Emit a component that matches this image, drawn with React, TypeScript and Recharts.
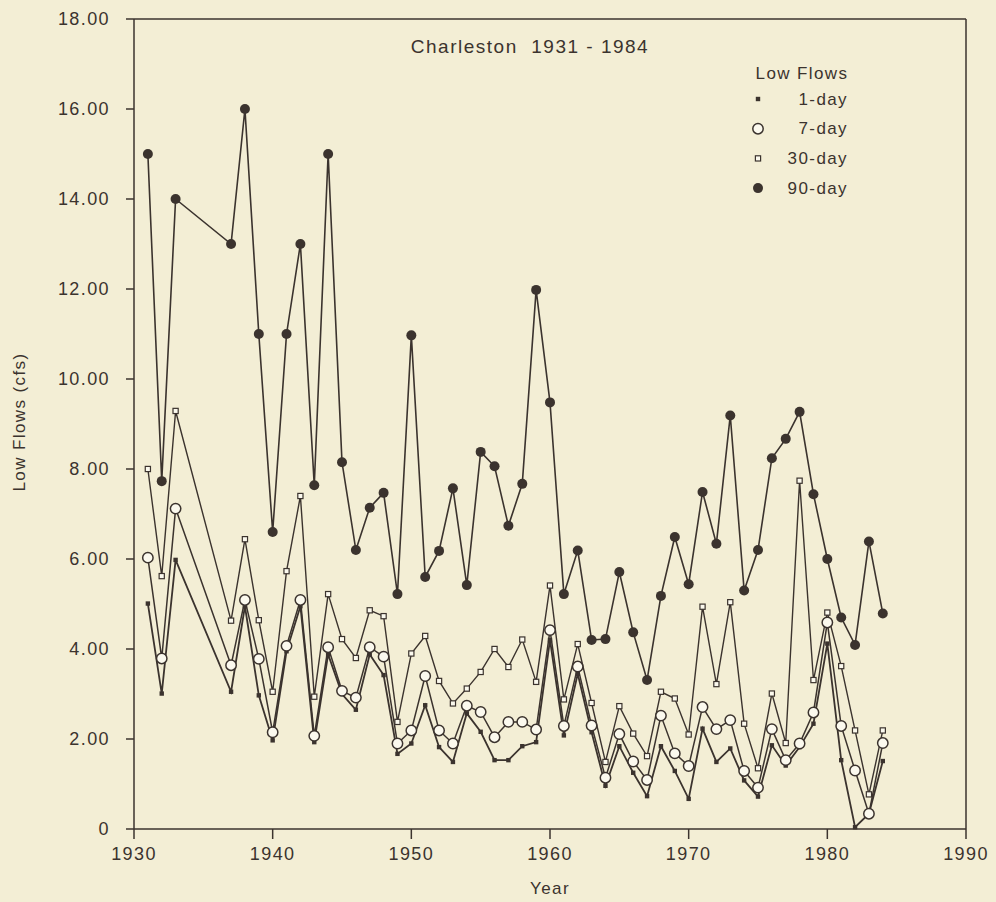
import React from "react";
import { LineChart, Line, XAxis, YAxis, ReferenceLine } from "recharts";

const years = [
  1931, 1932, 1933, 1937, 1938, 1939, 1940, 1941, 1942, 1943, 1944, 1945, 1946,
  1947, 1948, 1949, 1950, 1951, 1952, 1953, 1954, 1955, 1956, 1957, 1958, 1959,
  1960, 1961, 1962, 1963, 1964, 1965, 1966, 1967, 1968, 1969, 1970, 1971, 1972,
  1973, 1974, 1975, 1976, 1977, 1978, 1979, 1980, 1981, 1982, 1983, 1984,
];

const oneDay = [
  5.01, 3.01, 5.98, 3.05, 4.95, 2.97, 1.97, 3.95, 4.95, 1.93, 3.88, 3.0, 2.65,
  3.88, 3.42, 1.67, 1.9, 2.75, 1.82, 1.49, 2.57, 2.16, 1.53, 1.53, 1.84, 1.93,
  4.2, 2.08, 3.45, 2.15, 0.96, 1.84, 1.25, 0.73, 1.84, 1.29, 0.67, 2.23, 1.49,
  1.79, 1.08, 0.72, 1.86, 1.41, 1.82, 2.34, 4.12, 1.53, 0.04, 0.34, 1.51,
];

const sevenDay = [
  6.03, 3.79, 7.12, 3.64, 5.09, 3.78, 2.15, 4.07, 5.09, 2.07, 4.04, 3.07, 2.92,
  4.04, 3.83, 1.9, 2.19, 3.4, 2.19, 1.9, 2.74, 2.6, 2.04, 2.38, 2.38, 2.21,
  4.42, 2.29, 3.61, 2.3, 1.14, 2.11, 1.5, 1.09, 2.52, 1.68, 1.4, 2.71, 2.22,
  2.42, 1.29, 0.92, 2.22, 1.53, 1.9, 2.59, 4.59, 2.29, 1.3, 0.34, 1.91,
];

const thirtyDay = [
  8.0, 5.62, 9.29, 4.63, 6.44, 4.64, 3.05, 5.73, 7.4, 2.94, 5.22, 4.22, 3.8,
  4.86, 4.73, 2.38, 3.9, 4.29, 3.29, 2.79, 3.12, 3.49, 4.0, 3.6, 4.21, 3.27,
  5.41, 2.88, 4.11, 2.8, 1.49, 2.73, 2.12, 1.62, 3.05, 2.9, 2.1, 4.94, 3.22,
  5.04, 2.34, 1.35, 3.01, 1.91, 7.74, 3.31, 4.81, 3.62, 2.19, 0.77, 2.19,
];

const ninetyDay = [
  15.0, 7.73, 14.0, 13.0, 16.0, 11.0, 6.6, 11.0, 13.0, 7.64, 15.0, 8.15, 6.2,
  7.14, 7.47, 5.22, 10.97, 5.6, 6.18, 7.57, 5.42, 8.38, 8.06, 6.74, 7.67, 11.98,
  9.48, 5.22, 6.19, 4.2, 4.22, 5.71, 4.37, 3.31, 5.18, 6.49, 5.44, 7.49, 6.34,
  9.19, 5.3, 6.2, 8.24, 8.67, 9.27, 7.44, 6.0, 4.7, 4.09, 6.39, 4.79,
];

const xTicks = [1930, 1940, 1950, 1960, 1970, 1980, 1990];
const yTicks = [0, 2, 4, 6, 8, 10, 12, 14, 16, 18];
const seriesNames = ["1-day", "7-day", "30-day", "90-day"];

const data = years.map((year, i) => ({
  year,
  d1: oneDay[i],
  d7: sevenDay[i],
  d30: thirtyDay[i],
  d90: ninetyDay[i],
}));

const ink = "#3b332e";
const paper = "#f3eed5";
const hole = "#fbf9ee";
const font = "'Liberation Sans', Arial, Helvetica, sans-serif";

type Kind = "d1" | "d7" | "d30" | "d90";

function Marker({ kind, x, y }: { kind: Kind; x: number; y: number }) {
  if (kind === "d1")
    return <rect x={x - 2.2} y={y - 2.2} width={4.4} height={4.4} fill={ink} />;
  if (kind === "d30")
    return (
      <rect x={x - 2.6} y={y - 2.6} width={5.2} height={5.2} fill={hole} stroke={ink} strokeWidth={1.2} />
    );
  if (kind === "d7")
    return <circle cx={x} cy={y} r={5.2} fill={hole} stroke={ink} strokeWidth={1.5} />;
  return <circle cx={x} cy={y} r={5} fill={ink} />;
}

const makeDot = (kind: Kind) => (p: any) => {
  const key = `${kind}-${p.index}`;
  if (p.cx == null || p.cy == null) return <g key={key} />;
  return (
    <g key={key}>
      <Marker kind={kind} x={p.cx} y={p.cy} />
    </g>
  );
};

const legendKinds: Kind[] = ["d1", "d7", "d30", "d90"];

// legend drawn over the chart, top right of the plot
function LegendBox() {
  return (
    <svg
      width={130}
      height={150}
      style={{ position: "absolute", left: 740, top: 55, fontFamily: font, zIndex: 2 }}
    >
      <text x={62} y={18} textAnchor="middle" dominantBaseline="central" fill={ink} fontSize={17} style={{ letterSpacing: "1.4px" }}>
        Low Flows
      </text>
      {legendKinds.map((k, i) => {
        const y = 44 + i * 29.7;
        return (
          <g key={k}>
            <Marker kind={k} x={18} y={y} />
            <text x={108} y={y} textAnchor="end" dominantBaseline="central" fill={ink} fontSize={17} style={{ letterSpacing: "1.4px" }}>
              {seriesNames[i]}
            </text>
          </g>
        );
      })}
    </svg>
  );
}

const fmtY = (v: number) => (v === 0 ? "0" : v.toFixed(2));

const tickStyle = { fill: ink, fontSize: 18, style: { letterSpacing: "1.4px" } };

export default function App() {
  return (
    <div
      style={{
        position: "absolute",
        left: 0,
        top: 0,
        width: 996,
        height: 902,
        background: paper,
        fontFamily: font,
      }}
    >
      <div
        style={{
          position: "absolute",
          left: 330,
          width: 400,
          top: 35,
          textAlign: "center",
          fontSize: 19,
          lineHeight: "24px",
          letterSpacing: "1.5px",
          color: ink,
          whiteSpace: "pre",
          zIndex: 2,
        }}
      >
        {"Charleston  1931 - 1984"}
      </div>
      <LegendBox />
      <LineChart
        width={996}
        height={902}
        data={data}
        margin={{ top: 19, right: 30, left: 0, bottom: 0 }}
      >
        <XAxis
          dataKey="year"
          type="number"
          domain={[1930, 1990]}
          ticks={xTicks}
          interval={0}
          height={73}
          tickSize={10}
          tickMargin={8}
          stroke={ink}
          strokeWidth={1.5}
          tick={tickStyle}
          label={(props: any) => {
            const vb = props.viewBox || { x: 134, y: 829, width: 832 };
            return (
              <text
                x={vb.x + vb.width / 2}
                y={vb.y + 59}
                textAnchor="middle"
                dominantBaseline="central"
                fill={ink}
                fontSize={17}
                style={{ letterSpacing: "1.4px" }}
              >
                Year
              </text>
            );
          }}
        />
        <YAxis
          type="number"
          domain={[0, 18]}
          ticks={yTicks}
          interval={0}
          width={134}
          tickSize={8}
          tickMargin={16}
          tickFormatter={fmtY}
          stroke={ink}
          strokeWidth={1.5}
          tick={tickStyle}
          label={() => (
            <text
              x={19}
              y={422}
              transform="rotate(-90 19 422)"
              textAnchor="middle"
              dominantBaseline="central"
              fill={ink}
              fontSize={17}
              style={{ letterSpacing: "1.4px" }}
            >
              Low Flows (cfs)
            </text>
          )}
        />
        <ReferenceLine y={18} stroke={ink} strokeWidth={1.5} />
        <ReferenceLine x={1990} stroke={ink} strokeWidth={1.5} />
        <Line type="linear" dataKey="d90" name="90-day" stroke={ink} strokeWidth={1.6} dot={makeDot("d90")} activeDot={false} isAnimationActive={false} />
        <Line type="linear" dataKey="d30" name="30-day" stroke={ink} strokeWidth={1.4} dot={makeDot("d30")} activeDot={false} isAnimationActive={false} />
        <Line type="linear" dataKey="d1" name="1-day" stroke={ink} strokeWidth={1.8} dot={makeDot("d1")} activeDot={false} isAnimationActive={false} />
        <Line type="linear" dataKey="d7" name="7-day" stroke={ink} strokeWidth={1.5} dot={makeDot("d7")} activeDot={false} isAnimationActive={false} />
      </LineChart>
    </div>
  );
}
